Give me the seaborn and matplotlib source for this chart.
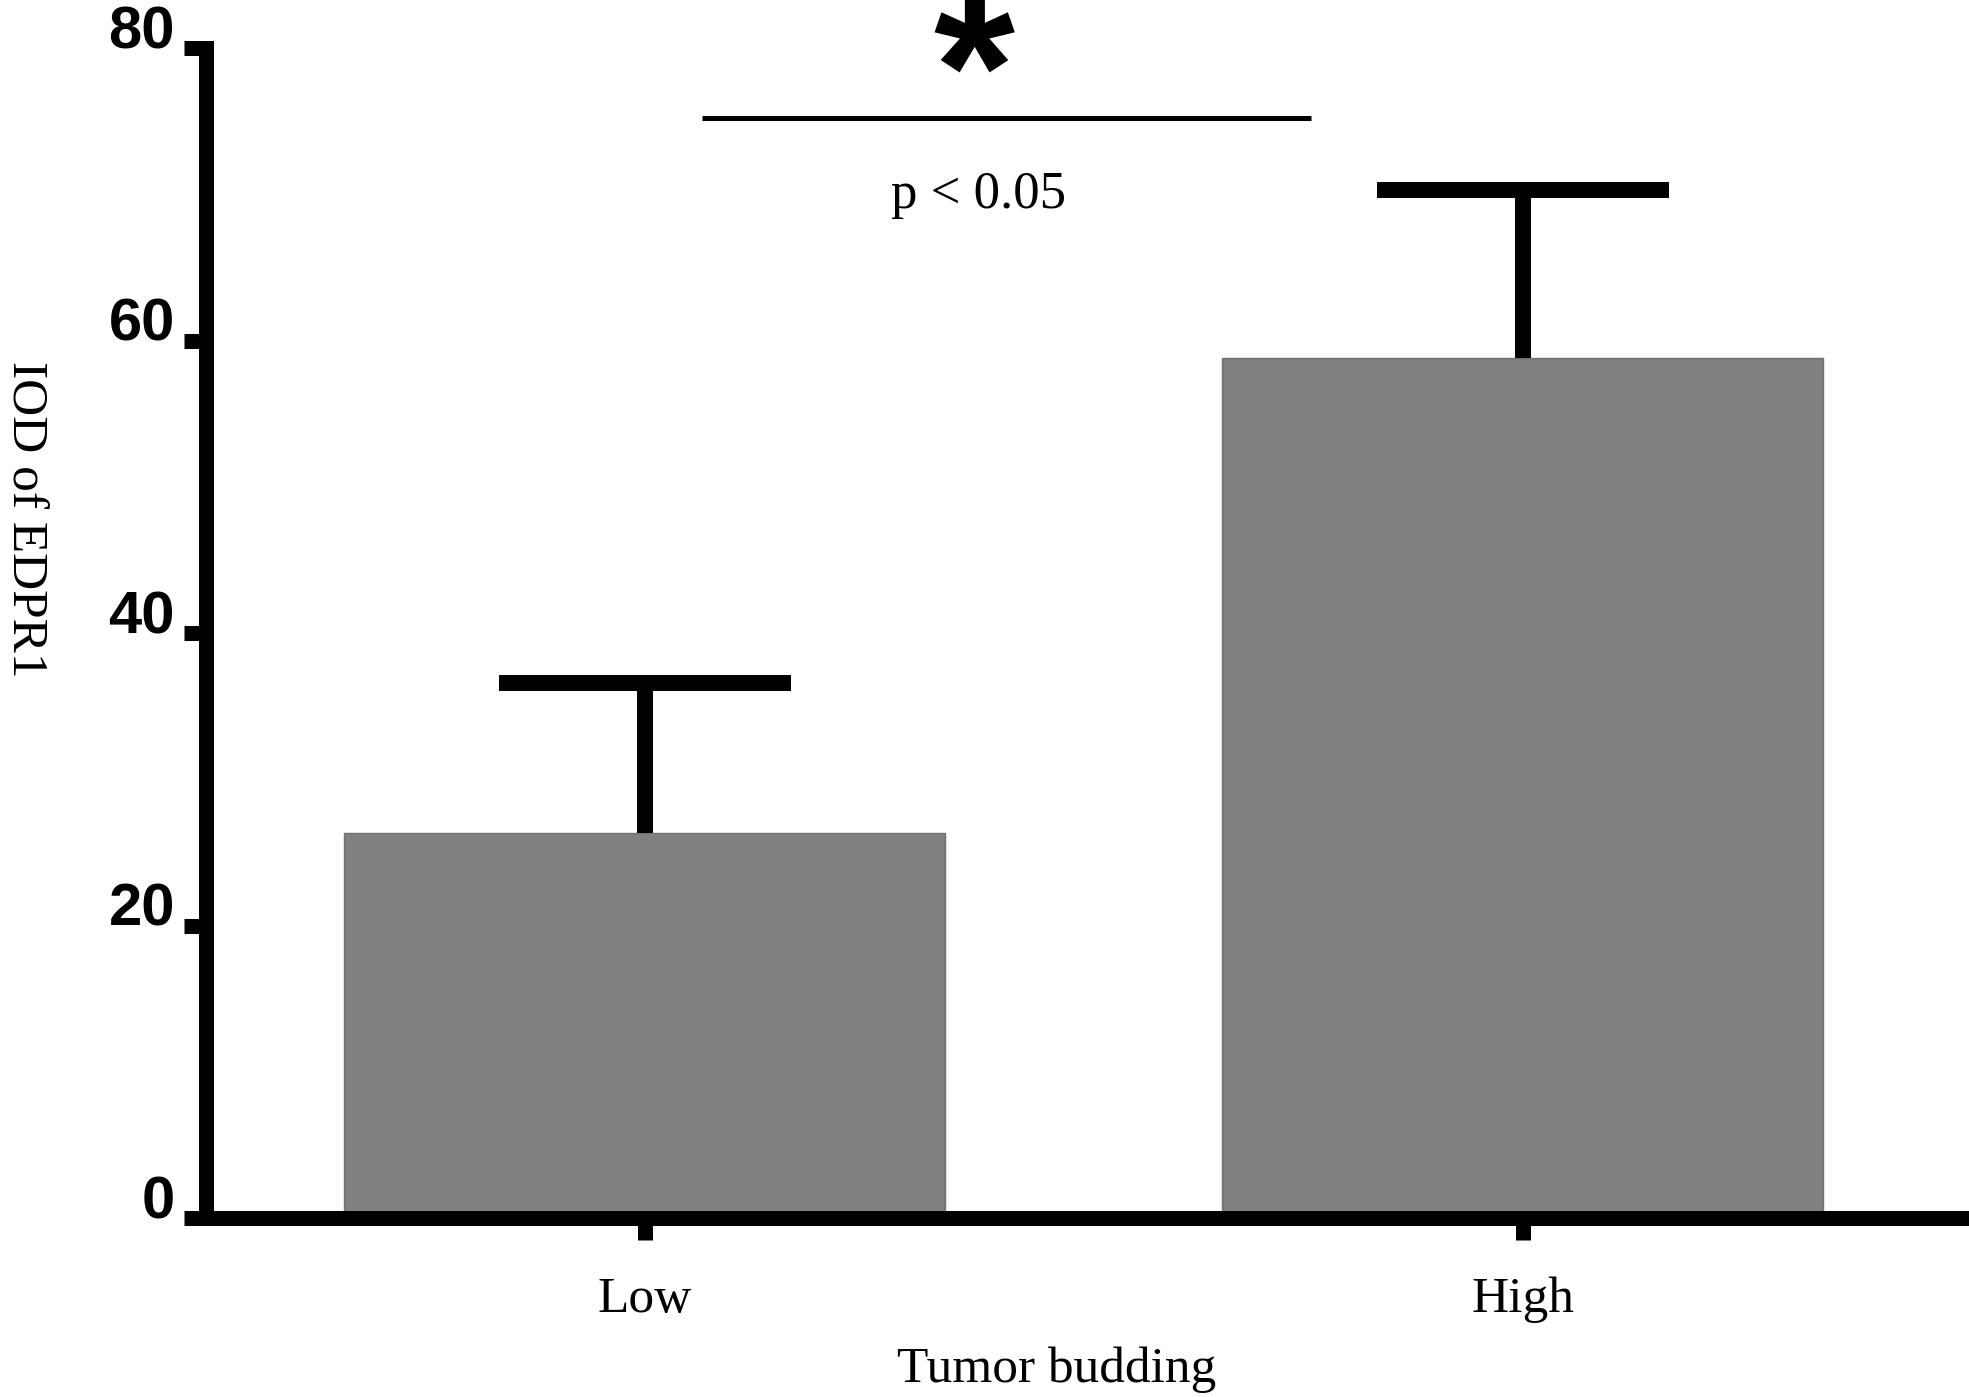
import numpy as np
import pandas as pd
import seaborn as sns
import matplotlib.pyplot as plt

groups = ["Low", "High"]
iod_mean = [26.3, 58.8]
iod_err = [10.3, 11.5]
y_ticks = [0, 20, 40, 60, 80]

# significance bracket
sig_x = [0.065, 0.759]
sig_y = 75.2
sig_text = "p < 0.05"

sns.set_style("ticks")
plt.rcParams["font.family"] = ["Liberation Serif", "DejaVu Serif"]
for key in ["text.color", "axes.labelcolor", "xtick.color", "ytick.color"]:
    plt.rcParams[key] = "black"

df = pd.DataFrame({"group": groups, "iod": iod_mean})

fig = plt.figure(figsize=(19.69, 13.97), dpi=100)
ax = fig.add_axes([0.1044, 0.1281, 0.8941, 0.8375])

sns.barplot(data=df, x="group", y="iod", color="#808080", saturation=1,
            width=0.684, errorbar=None, edgecolor="#707070", linewidth=1,
            ax=ax, zorder=2)
_, caps, _ = ax.errorbar(x=np.arange(len(groups)), y=iod_mean,
                         yerr=[np.zeros(len(groups)), iod_err], fmt="none",
                         ecolor="black", elinewidth=11.5, capsize=105,
                         capthick=11.5, zorder=3)
# only the upper caps are shown
for cap in caps:
    if np.allclose(cap.get_ydata(), iod_mean):
        cap.set_visible(False)

ax.set_xlim(-0.5, 1.505)
ax.set_ylim(0, 80)
ax.set_yticks(y_ticks)

for side in ["top", "right"]:
    ax.spines[side].set_visible(False)
for side in ["left", "bottom"]:
    ax.spines[side].set_linewidth(10.8)
    ax.spines[side].set_color("black")
    ax.spines[side].set_capstyle("projecting")

ax.tick_params(axis="y", length=16, width=10.8, pad=6, labelsize=43)
ax.tick_params(axis="x", length=16, width=10.8, pad=26, labelsize=37)
for lab in ax.get_yticklabels():
    lab.set_fontfamily(["Liberation Sans", "DejaVu Sans"])
    lab.set_fontweight("bold")
    lab.set_va("baseline")

ax.set_xlabel("Tumor budding", fontsize=37)
ax.xaxis.set_label_coords(0.4835, -0.11)
ax.set_ylabel("IOD of EDPR1", fontsize=37, rotation=-90,
              rotation_mode="default", ha="left", va="center")
ax.yaxis.set_label_coords(-0.116, 0.597)

ax.plot(sig_x, [sig_y, sig_y], color="black", lw=3.6, clip_on=False,
        solid_capstyle="butt")
ax.text(0.375, 73.9, "*", fontsize=150, fontweight="bold",
        family=["Liberation Sans", "DejaVu Sans"], ha="center",
        va="baseline", clip_on=False)
ax.text(0.38, 69.06, sig_text, fontsize=38, ha="center", va="baseline")

fig.savefig("out.png", dpi=100)
